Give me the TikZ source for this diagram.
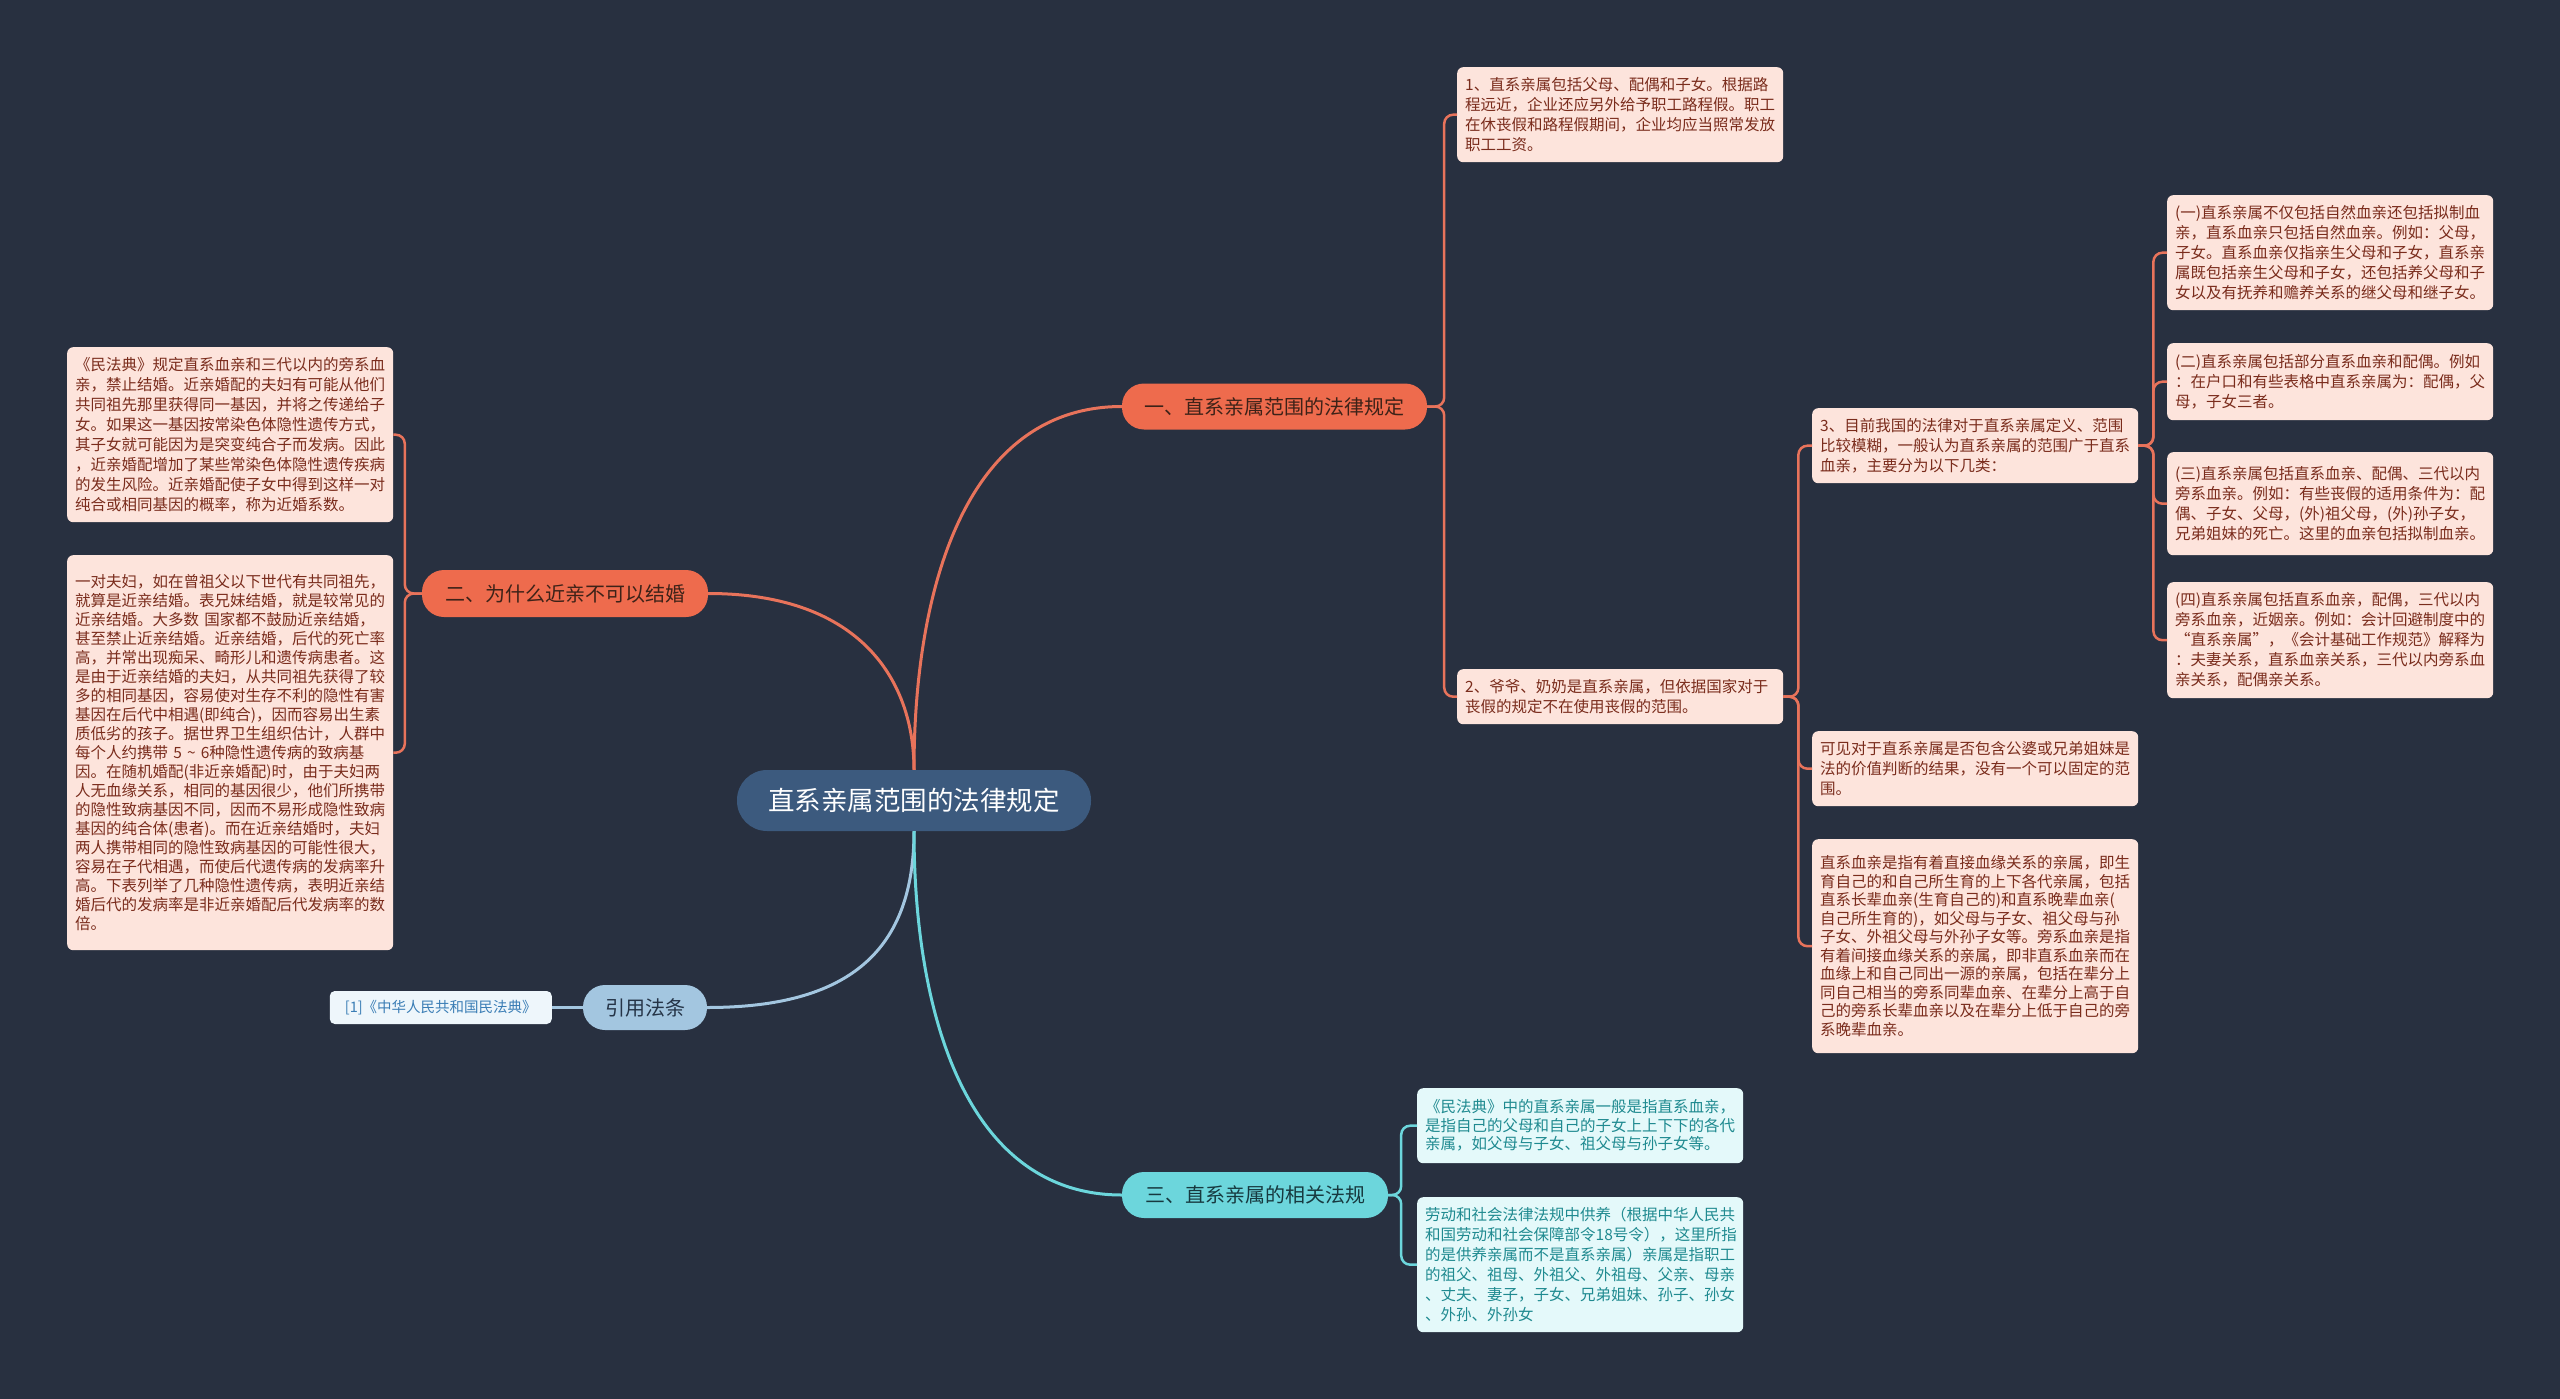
\documentclass[tikz,border=0pt]{standalone}
\usepackage{fontspec}
\setmainfont{Noto Sans CJK SC}
\definecolor{cbg}{HTML}{283040}
\definecolor{crootfill}{HTML}{3C5A7E}
\definecolor{corange}{HTML}{EE6B4D}
\definecolor{cline}{HTML}{E8735B}
\definecolor{cpink}{HTML}{FDE4DC}
\definecolor{cpinktext}{HTML}{7A2C1C}
\definecolor{cbrtext}{HTML}{3D2218}
\definecolor{ccyan}{HTML}{6CD6DC}
\definecolor{ccyanleaf}{HTML}{E4F9FA}
\definecolor{ccyantext}{HTML}{1F8A90}
\definecolor{ccyanbrtext}{HTML}{17393F}
\definecolor{cblue}{HTML}{A3C6E0}
\definecolor{cbluetext}{HTML}{253447}
\definecolor{crefleaf}{HTML}{EEF6FB}
\definecolor{creftext}{HTML}{3A7DB5}
\tikzset{
  rootbox/.style={fill=crootfill, text=white, rounded corners=30pt, minimum width=354pt, minimum height=61pt, inner sep=0pt, font=\fontsize{26.5}{30}\selectfont},
  brbox/.style={rounded corners=22pt, inner sep=0pt, minimum height=46pt, font=\fontsize{20}{24}\selectfont},
  leafbox/.style={rounded corners=6pt, align=left, text width=310pt, inner xsep=8pt, inner ysep=6pt, anchor=north west, font=\fontsize{15.5}{20}\selectfont},
  pinkleaf/.style={leafbox, fill=cpink, text=cpinktext},
  cyanleaf/.style={leafbox, fill=ccyanleaf, text=ccyantext},
  rootline/.style={line width=3pt},
  leafline/.style={line width=2.5pt, rounded corners=9pt},
}
\begin{document}
\begin{tikzpicture}[x=1pt,y=-1pt]
\fill[cbg] (0,0) rectangle (2560,1399);
\useasboundingbox (0,0) rectangle (2560,1399);

% root and branches
\node[rootbox] (root) at (914,800.5) {直系亲属范围的法律规定};
\node[brbox, fill=corange, text=cbrtext, minimum width=305pt] (b1) at (1274.5,406.5) {一、直系亲属范围的法律规定};
\node[brbox, fill=corange, text=cbrtext, minimum width=286pt, minimum height=47pt] (b2) at (565,593.5) {二、为什么近亲不可以结婚};
\node[brbox, fill=cblue, text=cbluetext, minimum width=124pt, minimum height=45pt] (yin) at (645,1007.5) {引用法条};
\node[brbox, fill=ccyan, text=ccyanbrtext, minimum width=266pt] (b4) at (1255,1195) {三、直系亲属的相关法规};

% branch 1 leaves
\node[pinkleaf, minimum height=95pt] (l1) at (1457,67) {1、直系亲属包括父母、配偶和子女。根据路\\程远近，企业还应另外给予职工路程假。职工\\在休丧假和路程假期间，企业均应当照常发放\\职工工资。};
\node[pinkleaf, minimum height=55pt] (m2) at (1457,669) {2、爷爷、奶奶是直系亲属，但依据国家对于\\丧假的规定不在使用丧假的范围。};
\node[pinkleaf, minimum height=75pt] (m3) at (1812,408) {3、目前我国的法律对于直系亲属定义、范围\\比较模糊，一般认为直系亲属的范围广于直系\\血亲，主要分为以下几类：};
\node[pinkleaf, minimum height=75pt] (m4) at (1812,731) {可见对于直系亲属是否包含公婆或兄弟姐妹是\\法的价值判断的结果，没有一个可以固定的范\\围。};
\node[pinkleaf, minimum height=214pt, font=\fontsize{15.5}{18.5}\selectfont] (m5) at (1812,839) {直系血亲是指有着直接血缘关系的亲属，即生\\育自己的和自己所生育的上下各代亲属，包括\\直系长辈血亲(生育自己的)和直系晚辈血亲(\\自己所生育的)，如父母与子女、祖父母与孙\\子女、外祖父母与外孙子女等。旁系血亲是指\\有着间接血缘关系的亲属，即非直系血亲而在\\血缘上和自己同出一源的亲属，包括在辈分上\\同自己相当的旁系同辈血亲、在辈分上高于自\\己的旁系长辈血亲以及在辈分上低于自己的旁\\系晚辈血亲。};
\node[pinkleaf, minimum height=115pt] (r1) at (2167,195) {(一)直系亲属不仅包括自然血亲还包括拟制血\\亲，直系血亲只包括自然血亲。例如：父母，\\子女。直系血亲仅指亲生父母和子女，直系亲\\属既包括亲生父母和子女，还包括养父母和子\\女以及有抚养和赡养关系的继父母和继子女。};
\node[pinkleaf, minimum height=77pt] (r2) at (2167,343) {(二)直系亲属包括部分直系血亲和配偶。例如\\：在户口和有些表格中直系亲属为：配偶，父\\母，子女三者。};
\node[pinkleaf, minimum height=103pt] (r3) at (2167,452) {(三)直系亲属包括直系血亲、配偶、三代以内\\旁系血亲。例如：有些丧假的适用条件为：配\\偶、子女、父母，(外)祖父母，(外)孙子女，\\兄弟姐妹的死亡。这里的血亲包括拟制血亲。};
\node[pinkleaf, minimum height=116pt] (r4) at (2167,582) {(四)直系亲属包括直系血亲，配偶，三代以内\\旁系血亲，近姻亲。例如：会计回避制度中的\\“直系亲属”，《会计基础工作规范》解释为\\：夫妻关系，直系血亲关系，三代以内旁系血\\亲关系，配偶亲关系。};

% branch 2 leaves
\node[pinkleaf, minimum height=175pt] (ll1) at (67,347) {《民法典》规定直系血亲和三代以内的旁系血\\亲，禁止结婚。近亲婚配的夫妇有可能从他们\\共同祖先那里获得同一基因，并将之传递给子\\女。如果这一基因按常染色体隐性遗传方式，\\其子女就可能因为是突变纯合子而发病。因此\\，近亲婚配增加了某些常染色体隐性遗传疾病\\的发生风险。近亲婚配使子女中得到这样一对\\纯合或相同基因的概率，称为近婚系数。};
\node[pinkleaf, minimum height=395pt, font=\fontsize{15.5}{19}\selectfont] (ll2) at (67,555) {一对夫妇，如在曾祖父以下世代有共同祖先，\\就算是近亲结婚。表兄妹结婚，就是较常见的\\近亲结婚。大多数 国家都不鼓励近亲结婚，\\甚至禁止近亲结婚。近亲结婚，后代的死亡率\\高，并常出现痴呆、畸形儿和遗传病患者。这\\是由于近亲结婚的夫妇，从共同祖先获得了较\\多的相同基因，容易使对生存不利的隐性有害\\基因在后代中相遇(即纯合)，因而容易出生素\\质低劣的孩子。据世界卫生组织估计，人群中\\每个人约携带 5 \textasciitilde{} 6种隐性遗传病的致病基\\因。在随机婚配(非近亲婚配)时，由于夫妇两\\人无血缘关系，相同的基因很少，他们所携带\\的隐性致病基因不同，因而不易形成隐性致病\\基因的纯合体(患者)。而在近亲结婚时，夫妇\\两人携带相同的隐性致病基因的可能性很大，\\容易在子代相遇，而使后代遗传病的发病率升\\高。下表列举了几种隐性遗传病，表明近亲结\\婚后代的发病率是非近亲婚配后代发病率的数\\倍。};

% reference leaf
\node[fill=crefleaf, text=creftext, rounded corners=5pt, minimum width=222pt, minimum height=33pt, inner sep=0pt, anchor=east, font=\fontsize{14.5}{17}\selectfont] (ref) at (552,1007.5) {[1]《中华人民共和国民法典》};

% branch 4 leaves
\node[cyanleaf, minimum height=75pt, font=\fontsize{15.5}{18.5}\selectfont] (c1) at (1417,1088) {《民法典》中的直系亲属一般是指直系血亲，\\是指自己的父母和自己的子女上上下下的各代\\亲属，如父母与子女、祖父母与孙子女等。};
\node[cyanleaf, minimum height=135pt] (c2) at (1417,1197) {劳动和社会法律法规中供养（根据中华人民共\\和国劳动和社会保障部令18号令），这里所指\\的是供养亲属而不是直系亲属）亲属是指职工\\的祖父、祖母、外祖父、外祖母、父亲、母亲\\、丈夫、妻子，子女、兄弟姐妹、孙子、孙女\\、外孙、外孙女};

% root connectors
\draw[rootline, cline] (root.north) .. controls (914,588) and (966,406.5) .. (b1.west);
\draw[rootline, cline] (root.north) .. controls (914,682) and (862,593.5) .. (b2.east);
\draw[rootline, cblue] (root.south) .. controls (914,950) and (850,1007.5) .. (yin.east);
\draw[rootline, ccyan] (root.south) .. controls (914,1013) and (966,1195) .. (b4.west);

% leaf connectors
\draw[leafline, cline] (b1.east) -- ++(17,0) |- (l1.west);
\draw[leafline, cline] (b1.east) -- ++(17,0) |- (m2.west);
\draw[leafline, cline] (m2.east) -- ++(15,0) |- (m3.west);
\draw[leafline, cline] (m2.east) -- ++(15,0) |- (m4.west);
\draw[leafline, cline] (m2.east) -- ++(15,0) |- (m5.west);
\draw[leafline, cline] (m3.east) -- ++(15,0) |- (r1.west);
\draw[leafline, cline] (m3.east) -- ++(15,0) |- (r2.west);
\draw[leafline, cline] (m3.east) -- ++(15,0) |- (r3.west);
\draw[leafline, cline] (m3.east) -- ++(15,0) |- (r4.west);
\draw[leafline, cline] (b2.west) -- ++(-17,0) |- (ll1.east);
\draw[leafline, cline] (b2.west) -- ++(-17,0) |- (ll2.east);
\draw[leafline, ccyan] (b4.east) -- ++(13,0) |- (c1.west);
\draw[leafline, ccyan] (b4.east) -- ++(13,0) |- (c2.west);
\draw[leafline, cblue] (yin.west) -- (ref.east);
\end{tikzpicture}
\end{document}
